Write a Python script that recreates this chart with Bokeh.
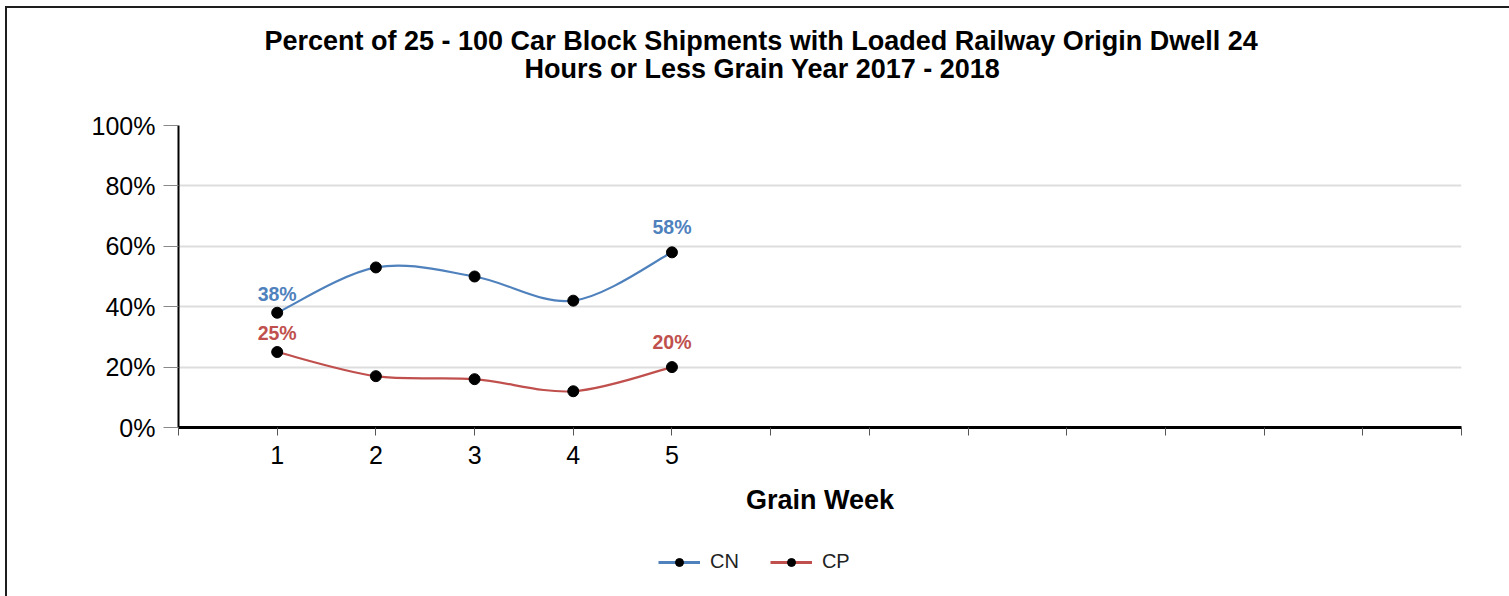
from bokeh.plotting import figure
from bokeh.layouts import column
from bokeh.models import (FixedTicker, PrintfTickFormatter, Legend, LegendItem, Title,
                          ColumnDataSource, Range1d)
from bokeh.embed import file_html
from bokeh.resources import INLINE
from bokeh.core.properties import value

# ---- data ----
weeks = [1, 2, 3, 4, 5]
cn = [38, 53, 50, 42, 58]
cp = [25, 17, 16, 12, 20]
week_ticks = list(range(0, 14))
week_labels = {t: (str(t) if 1 <= t <= 5 else "") for t in week_ticks}
y_ticks = [0, 20, 40, 60, 80, 100]
title_lines = ["Percent of 25 - 100 Car Block Shipments with Loaded Railway Origin Dwell 24",
               "Hours or Less Grain Year 2017 - 2018"]
x_title = "Grain Week"
series_names = ["CN", "CP"]
series_colors = ["#4f81bd", "#c0504d"]

FONT = "Liberation Sans"

W, H1, H2 = 1502, 540, 48
p = figure(width=W, height=H1, output_backend="svg", toolbar_location=None,
           x_range=Range1d(0, 13), y_range=Range1d(0, 100),
           min_border_left=171, min_border_right=48, min_border_top=117, min_border_bottom=121)
p.outline_line_color = None
p.background_fill_color = "white"
p.border_fill_color = "white"

# axes
p.xaxis.ticker = FixedTicker(ticks=week_ticks)
p.xaxis.major_label_overrides = week_labels
p.xaxis.axis_line_color = "black"
p.xaxis.axis_line_width = 3
p.xaxis.major_tick_line_color = "#555555"
p.xaxis.major_tick_out = 8
p.xaxis.major_tick_in = 0
p.xaxis.minor_tick_line_color = None
p.xaxis.major_label_text_font = FONT
p.xaxis.major_label_text_font_size = "25px"
p.xaxis.major_label_text_color = "black"
p.xaxis.major_label_standoff = 10
p.xaxis.axis_label = x_title
p.xaxis.axis_label_text_font = FONT
p.xaxis.axis_label_text_font_size = "27px"
p.xaxis.axis_label_text_font_style = "bold"
p.xaxis.axis_label_text_color = "black"
p.xaxis.axis_label_standoff = 18

p.yaxis.ticker = FixedTicker(ticks=y_ticks)
p.yaxis.formatter = PrintfTickFormatter(format="%d%%")
p.yaxis.axis_line_color = "black"
p.yaxis.axis_line_width = 2
p.yaxis.major_tick_line_color = "#888888"
p.yaxis.major_tick_line_width = 1
p.yaxis.major_tick_out = 15
p.yaxis.major_tick_in = 0
p.yaxis.minor_tick_line_color = None
p.yaxis.major_label_text_font = FONT
p.yaxis.major_label_text_font_size = "25px"
p.yaxis.major_label_text_color = "black"
p.yaxis.major_label_standoff = 8

p.xgrid.grid_line_color = None
p.ygrid.ticker = FixedTicker(ticks=y_ticks[1:])
p.ygrid.grid_line_color = "#dddddd"
p.ygrid.grid_line_width = 2


def smooth_segments(xs, ys, t=1.0 / 6):
    n = len(xs)
    out = dict(x0=[], y0=[], x1=[], y1=[], cx0=[], cy0=[], cx1=[], cy1=[])
    for i in range(n - 1):
        xm, ym = (xs[i - 1], ys[i - 1]) if i > 0 else (xs[i], ys[i])
        xp, yp = (xs[i + 2], ys[i + 2]) if i + 2 < n else (xs[i + 1], ys[i + 1])
        out["x0"].append(xs[i]); out["y0"].append(ys[i])
        out["x1"].append(xs[i + 1]); out["y1"].append(ys[i + 1])
        out["cx0"].append(xs[i] + (xs[i + 1] - xm) * t)
        out["cy0"].append(ys[i] + (ys[i + 1] - ym) * t)
        out["cx1"].append(xs[i + 1] - (xp - xs[i]) * t)
        out["cy1"].append(ys[i + 1] - (yp - ys[i]) * t)
    return out


# legend strip (separate figure below the chart; its glyphs lie outside its view)
pl = figure(width=W, height=H2, output_backend="svg", toolbar_location=None,
            x_range=Range1d(-100, -99), y_range=Range1d(-100, -99),
            x_axis_location=None, y_axis_location=None,
            min_border_left=0, min_border_right=0, min_border_top=0, min_border_bottom=0)
pl.outline_line_color = None
pl.grid.visible = False
pl.background_fill_color = "white"
pl.border_fill_color = "white"

label_offsets = [-19, -25]   # first / last point label offsets (px)

items = []
for name, vals, col in zip(series_names, [cn, cp], series_colors):
    seg = ColumnDataSource(smooth_segments(weeks, vals))
    p.bezier(x0="x0", y0="y0", x1="x1", y1="y1", cx0="cx0", cy0="cy0",
             cx1="cx1", cy1="cy1", source=seg, line_color=col, line_width=2.2)
    p.scatter(weeks, vals, size=11, fill_color="black", line_color="black")
    idx = [0, len(vals) - 1]
    lab = ColumnDataSource(dict(x=[weeks[i] for i in idx], y=[vals[i] for i in idx],
                                t=["%d%%" % vals[i] for i in idx], dy=label_offsets))
    p.text(x="x", y="y", text="t", source=lab, text_color=col, text_font=value(FONT),
           text_font_size="19.5px", text_font_style="bold", text_align="center",
           text_baseline="middle", y_offset="dy")
    l_line = pl.line(weeks, vals, line_color=col, line_width=3)
    l_pts = pl.scatter(weeks, vals, size=12, fill_color="black", line_color="black")
    items.append(LegendItem(label=name, renderers=[l_line, l_pts]))

legend = Legend(items=items, orientation="horizontal", location=(480, 23),
                glyph_width=42, glyph_height=20, label_standoff=10, spacing=31,
                padding=0, margin=0, border_line_color=None, background_fill_alpha=0,
                label_text_font=FONT, label_text_font_size="20px", label_text_color="#222222")
pl.add_layout(legend, "center")

# titles, added from the frame outward: an empty spacer, then line 2, then line 1
p.add_layout(Title(text=" ", text_font=FONT, text_font_size="27px", standoff=10), "above")
p.add_layout(Title(text=title_lines[1], align="left", offset=346, text_font=FONT,
                   text_font_size="27px", text_font_style="bold", text_color="black",
                   standoff=0), "above")
p.add_layout(Title(text=title_lines[0], align="left", offset=86, text_font=FONT,
                   text_font_size="27px", text_font_style="bold", text_color="black",
                   standoff=-8), "above")

layout = column(p, pl, spacing=0)
layout.styles = {"border-left": "2px solid #1e1e1e", "border-top": "2px solid #1e1e1e",
                 "margin-left": "5px", "margin-top": "6px"}

open("out.html", "w").write(file_html(layout, INLINE))
